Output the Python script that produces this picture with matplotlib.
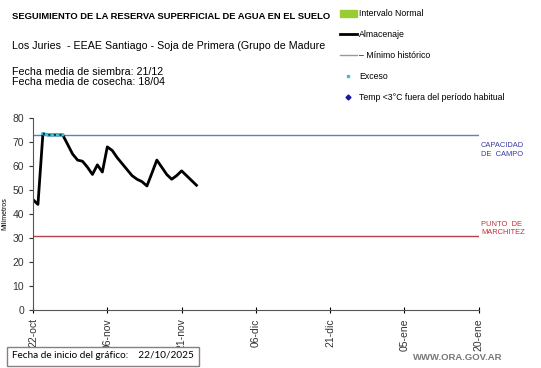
import numpy as np
import pandas as pd
import matplotlib
matplotlib.use("Agg")
import matplotlib.pyplot as plt
from matplotlib.lines import Line2D
from matplotlib.patches import Patch

plt.rcParams['font.family'] = ['Liberation Sans', 'DejaVu Sans']

start = pd.Timestamp("2025-10-22")
end = pd.Timestamp("2026-01-20")

# almacenaje diario (mm), desde el 22/10
almacenaje = [46, 44, 73.5, 73, 73, 73, 73, 69, 65, 62.5, 62, 59.5, 56.5, 60.5,
              57.5, 68, 66.5, 63.5, 61, 58.5, 56, 54.5, 53.5, 51.7, 57, 62.5,
              59.5, 56.5, 54.5, 56, 58, 56, 54, 52]
exceso_dias = [2, 3, 4, 5, 6]
capacidad_campo = 73
punto_marchitez = 31
ticks = ["22-oct", "06-nov", "21-nov", "06-dic", "21-dic", "05-ene", "20-ene"]

fechas = pd.date_range(start, periods=len(almacenaje), freq="D")

fig = plt.figure(figsize=(5.41, 3.68), dpi=100)
ax = fig.add_axes([0.061, 0.158, 0.824, 0.521])

ax.axhline(capacidad_campo, color="#5b7fc4", lw=1)
ax.axhline(punto_marchitez, color="#b5424a", lw=1)
ax.plot(fechas, almacenaje, color="black", lw=2, solid_joinstyle="round")
exc_x = fechas[exceso_dias]
exc_y = np.array(almacenaje)[exceso_dias]
ax.plot(exc_x, exc_y, color="#33c3dd", lw=2.2)
ax.plot(exc_x, exc_y, color="black", lw=1, ls=(0, (1.5, 2.5)))

ax.set_xlim(start, end)
ax.set_ylim(0, 80)
ax.set_yticks(range(0, 81, 10))
tick_dates = pd.date_range(start, end, freq="15D")
ax.set_xticks(tick_dates)
ax.set_xticklabels(ticks, rotation=90, fontsize=7.5, color="#333333")
ax.tick_params(axis="y", labelsize=7.5, colors="#333333", length=3)
ax.tick_params(axis="x", direction="inout", length=5)
for s in ["top", "right"]:
    ax.spines[s].set_visible(False)
for s in ["left", "bottom"]:
    ax.spines[s].set_color("#555555")
ax.set_ylabel("Milímetros", fontsize=5)
ax.yaxis.set_label_coords(-0.056, 0.5)

fig.text(481, 368 - 142, "CAPACIDAD\nDE  CAMPO", transform=None, fontsize=5.4,
         color="#3a3aa0", va="top", linespacing=1.3)
fig.text(481, 368 - 221, "PUNTO  DE\nMARCHITEZ", transform=None, fontsize=5.4,
         color="#c0303a", va="top", linespacing=1.3)

fig.text(12, 368 - 12, "SEGUIMIENTO DE LA RESERVA SUPERFICIAL DE AGUA EN EL SUELO",
         transform=None, fontsize=6.75, fontweight="bold", va="top")
fig.text(12, 368 - 41, "Los Juries  - EEAE Santiago - Soja de Primera (Grupo de Madure",
         transform=None, fontsize=7.7, va="top")
fig.text(12, 368 - 67, "Fecha media de siembra: 21/12", transform=None, fontsize=7.7, va="top")
fig.text(12, 368 - 77, "Fecha media de cosecha: 18/04", transform=None, fontsize=7.7, va="top")

handles = [Patch(color="#99cc33"),
           Line2D([], [], color="black", lw=2),
           Line2D([], [], color="#999999", lw=1),
           Line2D([], [], color="#33c3dd", lw=0, marker="s", ms=2),
           Line2D([], [], color="#1a1a99", lw=0, marker="D", ms=2.5)]
labels = ["Intervalo Normal", "Almacenaje", "– Mínimo histórico", "Exceso",
          "Temp <3°C fuera del período habitual"]
fig.legend(handles, labels, loc="upper left", bbox_to_anchor=(336 / 541, 1 - 6 / 368),
           frameon=False, fontsize=6.3, labelspacing=1.35, handlelength=2.0,
           handletextpad=0.25, borderaxespad=0)

fig.text(12, 368 - 356, "Fecha de inicio del gráfico:    22/10/2025", transform=None,
         fontsize=7.2, family=["Lato", "DejaVu Sans"], va="center",
         bbox=dict(boxstyle="square,pad=0.5", fc="white", ec="#8a7f7f", lw=1))
fig.text(413, 368 - 358, "WWW.ORA.GOV.AR", transform=None, fontsize=6.8,
         color="#777777", fontweight="bold", va="center")

fig.savefig("out.png", dpi=100)
